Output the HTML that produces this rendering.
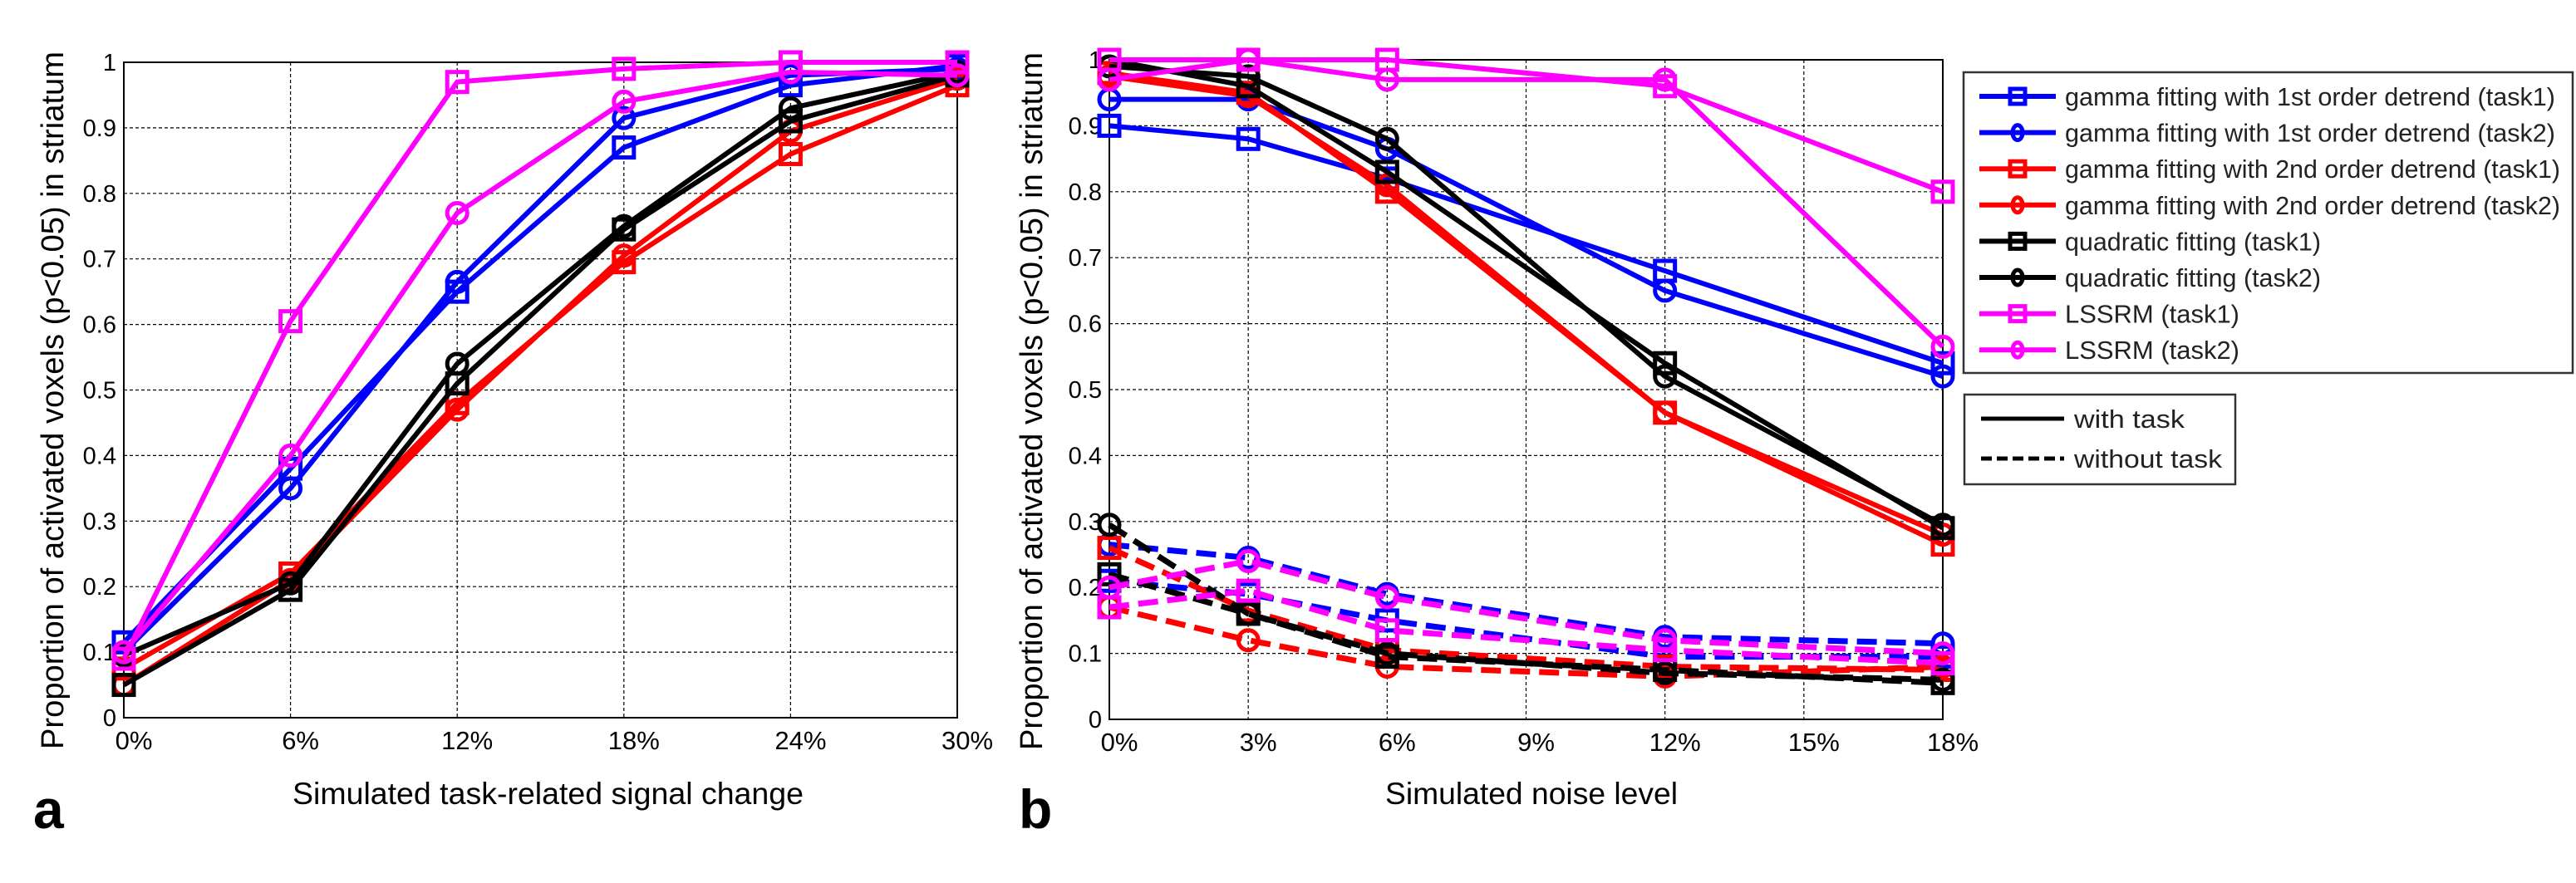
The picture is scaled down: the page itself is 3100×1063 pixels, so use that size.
<!DOCTYPE html>
<html><head><meta charset="utf-8"><style>
html,body{margin:0;padding:0;background:#fff;}
svg{display:block;}
text{font-family:"Liberation Sans",sans-serif;}
</style></head><body>
<svg id="fig" width="3100" height="1063" viewBox="0 0 3100 1063" xmlns="http://www.w3.org/2000/svg">
<g id="panelA"></g>
<g id="panelB"></g>
<text x="40" y="997" font-size="66" font-weight="bold">a</text>
<text x="1226" y="997" font-size="66" font-weight="bold">b</text>
<text x="352" y="968" font-size="37" textLength="615" lengthAdjust="spacingAndGlyphs">Simulated task-related signal change</text>
<text x="1667" y="968" font-size="37" textLength="352" lengthAdjust="spacingAndGlyphs">Simulated noise level</text>
<text transform="translate(76,902) rotate(-90)" font-size="38" textLength="840" lengthAdjust="spacingAndGlyphs">Proportion of activated voxels (p&lt;0.05) in striatum</text>
<text transform="translate(1254,903) rotate(-90)" font-size="38" textLength="840" lengthAdjust="spacingAndGlyphs">Proportion of activated voxels (p&lt;0.05) in striatum</text>
<g id="legend1"></g>
<g id="legend2"></g>
</svg>
<script>
const NS="http://www.w3.org/2000/svg";
const seriesNames=["gamma fitting with 1st order detrend (task1)","gamma fitting with 1st order detrend (task2)","gamma fitting with 2nd order detrend (task1)","gamma fitting with 2nd order detrend (task2)","quadratic fitting (task1)","quadratic fitting (task2)","LSSRM (task1)","LSSRM (task2)"];
const seriesColors=["#0000ff","#0000ff","#ff0000","#ff0000","#000000","#000000","#ff00ff","#ff00ff"];
const seriesMarkers=["square","circle","square","circle","square","circle","square","circle"];
const yTicks=[0,0.1,0.2,0.3,0.4,0.5,0.6,0.7,0.8,0.9,1];
const yTickLabels=["0","0.1","0.2","0.3","0.4","0.5","0.6","0.7","0.8","0.9","1"];
// Panel a
const aX=[0,6,12,18,24,30];
const aXTickLabels=["0%","6%","12%","18%","24%","30%"];
const aG1T1=[0.115,0.38,0.65,0.87,0.965,0.995];
const aG1T2=[0.10,0.35,0.665,0.915,0.98,0.99];
const aG2T1=[0.075,0.22,0.48,0.695,0.86,0.965];
const aG2T2=[0.05,0.21,0.47,0.705,0.895,0.975];
const aQT1=[0.05,0.195,0.51,0.745,0.91,0.98];
const aQT2=[0.095,0.205,0.54,0.75,0.93,0.985];
const aLT1=[0.09,0.605,0.97,0.99,1.0,1.0];
const aLT2=[0.10,0.40,0.77,0.94,0.985,0.98];
// Panel b
const bX=[0,3,6,12,18];
const bXTicks=[0,3,6,9,12,15,18];
const bXTickLabels=["0%","3%","6%","9%","12%","15%","18%"];
const bG1T1=[0.90,0.88,0.82,0.68,0.54];
const bG1T2=[0.94,0.94,0.865,0.65,0.52];
const bG2T1=[0.98,0.95,0.80,0.465,0.265];
const bG2T2=[0.975,0.945,0.81,0.465,0.28];
const bQT1=[1.0,0.96,0.83,0.54,0.29];
const bQT2=[0.99,0.975,0.88,0.52,0.295];
const bLT1=[1.0,1.0,1.0,0.96,0.80];
const bLT2=[0.97,1.0,0.97,0.97,0.565];
const bG1T1n=[0.21,0.19,0.15,0.095,0.095];
const bG1T2n=[0.265,0.245,0.19,0.125,0.115];
const bG2T1n=[0.26,0.165,0.105,0.08,0.075];
const bG2T2n=[0.17,0.12,0.08,0.065,0.08];
const bQT1n=[0.22,0.16,0.095,0.075,0.055];
const bQT2n=[0.295,0.16,0.10,0.07,0.06];
const bLT1n=[0.17,0.195,0.135,0.105,0.085];
const bLT2n=[0.20,0.24,0.185,0.12,0.10];

function mk(tag,attrs,parent){const e=document.createElementNS(NS,tag);for(const k in attrs)e.setAttribute(k,attrs[k]);parent.appendChild(e);return e;}

function marker(g,type,cx,cy,color,name){
  let m;
  if(type==="square"){m=mk("rect",{x:cx-12,y:cy-12,width:24,height:24,fill:"none",stroke:color,"stroke-width":5},g);}
  else{m=mk("circle",{cx:cx,cy:cy,r:12,fill:"none",stroke:color,"stroke-width":5},g);}
  
  
}

function panel(g,L,R,T,B,xmin,xmax,xticks,xlabels,series,tag){
  const sx=v=>L+(v-xmin)/(xmax-xmin)*(R-L);
  const sy=v=>B-v*(B-T);
  yTicks.forEach((t,i)=>{
    if(t>0&&t<1){const l=mk("line",{x1:L,x2:R,y1:sy(t),y2:sy(t),stroke:"#000","stroke-width":1.2,"stroke-dasharray":"4,3"},g);
      }
    const tx=mk("text",{x:L-9,y:sy(t)+10,"font-size":29,"text-anchor":"end"},g);tx.textContent=yTickLabels[i];
    
  });
  xticks.forEach((t,i)=>{
    if(t>xmin&&t<xmax){const l=mk("line",{x1:sx(t),x2:sx(t),y1:T,y2:B,stroke:"#000","stroke-width":1.2,"stroke-dasharray":"4,3"},g);
      }
    const tx=mk("text",{x:sx(t)+12,y:B+38,"font-size":31,"text-anchor":"middle"},g);tx.textContent=xlabels[i];
    
  });
  const box=mk("rect",{x:L,y:T,width:R-L,height:B-T,fill:"none",stroke:"#000","stroke-width":2},g);
  
  series.forEach((s,si)=>{
    const sg=mk("g",{},g);
    
    
    const pts=s.vals.map((v,i)=>sx(s.x[i])+","+sy(v)).join(" ");
    const pl=mk("polyline",{points:pts,fill:"none",stroke:s.color,"stroke-width":s.dash?7:6,"stroke-linejoin":"round"},sg);
    if(s.dash)pl.setAttribute("stroke-dasharray","24,11");
    
    s.vals.forEach((v,i)=>marker(sg,s.marker,sx(s.x[i]),sy(v),s.color,'series-marker'));
  });
}

const aVals=[aG1T1,aG1T2,aG2T1,aG2T2,aQT1,aQT2,aLT1,aLT2];
panel(document.getElementById("panelA"),149,1152,75,864,0,30,aX,aXTickLabels,
  aVals.map((v,i)=>({x:aX,vals:v,color:seriesColors[i],marker:seriesMarkers[i],dash:false})),"a");
const bVals=[bG1T1,bG1T2,bG2T1,bG2T2,bQT1,bQT2,bLT1,bLT2];
const bValsN=[bG1T1n,bG1T2n,bG2T1n,bG2T2n,bQT1n,bQT2n,bLT1n,bLT2n];
const bSeries=bValsN.map((v,i)=>({x:bX,vals:v,color:seriesColors[i],marker:seriesMarkers[i],dash:true}))
  .concat(bVals.map((v,i)=>({x:bX,vals:v,color:seriesColors[i],marker:seriesMarkers[i],dash:false})));
panel(document.getElementById("panelB"),1335,2338,72,866,0,18,bXTicks,bXTickLabels,bSeries,"b");

const lg=document.getElementById("legend1");
const lb=mk("rect",{x:2363,y:87,width:733,height:362,fill:"#fff",stroke:"#333","stroke-width":2.5},lg);

seriesNames.forEach((n,i)=>{
  const y=116+i*43.6;
  const eg=mk("g",{},lg);
  
  
  mk("line",{x1:2382,x2:2474,y1:y,y2:y,stroke:seriesColors[i],"stroke-width":6},eg);
  if(seriesMarkers[i]==="square")mk("rect",{x:2419,y:y-9,width:18,height:18,fill:"none",stroke:seriesColors[i],"stroke-width":5},eg);
  else mk("ellipse",{cx:2428,cy:y,rx:6,ry:9,fill:"none",stroke:seriesColors[i],"stroke-width":5},eg);
  const t=mk("text",{x:2485,y:y+11,"font-size":31,fill:"#222"},eg);t.textContent=n;
  const w=n.length>30?(n.indexOf("2nd")>0?596:590):(n.indexOf("quadratic")===0?308:210);
  t.setAttribute("textLength",w);t.setAttribute("lengthAdjust","spacingAndGlyphs");
});
const lg2=document.getElementById("legend2");
const lb2=mk("rect",{x:2364,y:475,width:326,height:108,fill:"#fff",stroke:"#333","stroke-width":2.5},lg2);

[["with task",false,504],["without task",true,552]].forEach(([n,d,y])=>{
  const eg=mk("g",{},lg2);
  
  
  const l=mk("line",{x1:2384,x2:2484,y1:y,y2:y,stroke:"#000","stroke-width":5},eg);
  if(d)l.setAttribute("stroke-dasharray","13,6");
  const t=mk("text",{x:2496,y:y+11,"font-size":31,fill:"#222"},eg);t.textContent=n;
  t.setAttribute("textLength",d?178:133);t.setAttribute("lengthAdjust","spacingAndGlyphs");
});
</script>
</body></html>
